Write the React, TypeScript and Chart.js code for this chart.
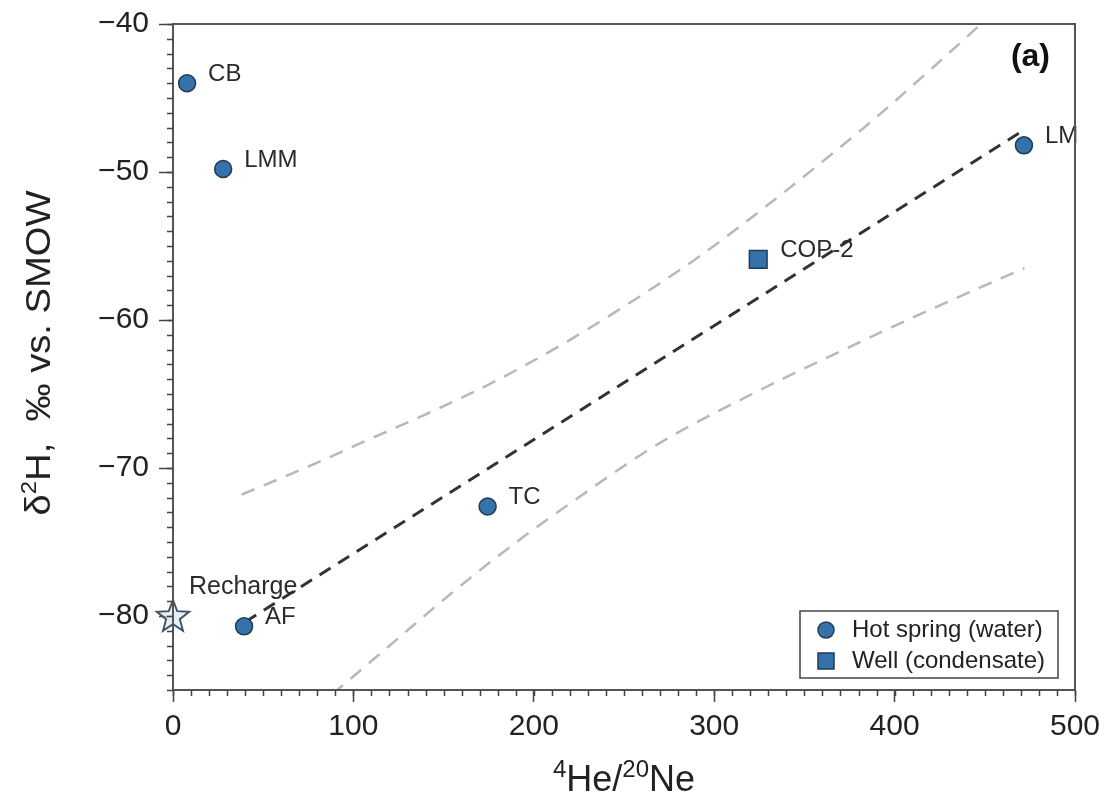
import React, { useEffect, useRef } from 'react';
import { Chart, registerables } from 'chart.js';

Chart.register(...registerables);

// ---------- data ----------
const springNames = ['CB', 'LMM', 'TC', 'AF', 'LM'];
const springX = [7.8, 27.8, 174.4, 39.4, 471.7];
const springY = [-44.0, -49.8, -72.6, -80.7, -48.2];

const wellNames = ['COP-2'];
const wellX = [324.4];
const wellY = [-55.9];

const rechargeNames = ['Recharge'];
const rechargeX = [0];
const rechargeY = [-80.0];

const fitX = [40, 470];
const fitY = [-80.4, -47.3];

const upperX = [38, 75, 110, 145, 176, 215, 255, 293, 330, 360, 387, 417, 447, 472];
const upperY = [-71.8, -69.9, -68.0, -66.1, -64.3, -61.7, -58.7, -55.6, -52.2, -49.3, -46.6, -43.4, -40.1, -37.3];

const lowerX = [38, 65, 94, 122, 150, 185, 220, 270, 326, 365, 400, 440, 472];
const lowerY = [-90.6, -87.7, -84.7, -81.8, -78.9, -75.5, -72.4, -68.3, -64.7, -62.4, -60.4, -58.2, -56.5];

const xTicks = [0, 100, 200, 300, 400, 500];
const yTicks = [-80, -70, -60, -50, -40];

const legendLabels = ['Hot spring (water)', 'Well (condensate)'];
const panelLabel = '(a)';

const FONT = '"Liberation Sans", Arial, Helvetica, sans-serif';
const FILL = '#3572aa';
const EDGE = '#1f3b57';

function pts(xs: number[], ys: number[]) {
  return xs.map((x, i) => ({ x, y: ys[i] }));
}

function makeStar(): HTMLCanvasElement {
  const c = document.createElement('canvas');
  c.width = 40;
  c.height = 40;
  const g = c.getContext('2d')!;
  g.beginPath();
  for (let i = 0; i < 10; i++) {
    const r = i % 2 === 0 ? 17 : 7.2;
    const a = -Math.PI / 2 + (i * Math.PI) / 5;
    const px = 20 + r * Math.cos(a);
    const py = 21 + r * Math.sin(a);
    if (i === 0) g.moveTo(px, py);
    else g.lineTo(px, py);
  }
  g.closePath();
  g.fillStyle = 'rgba(215,228,240,0.6)';
  g.fill();
  g.strokeStyle = '#3d5266';
  g.lineWidth = 1.9;
  g.stroke();
  return c;
}

type Run = { t: string; sup?: boolean };

function drawRuns(ctx: CanvasRenderingContext2D, runs: Run[], cx: number, base: number, size: number, supRatio: number) {
  const supSize = Math.round(size * supRatio);
  let total = 0;
  const widths = runs.map((r) => {
    ctx.font = `${r.sup ? supSize : size}px ${FONT}`;
    const w = ctx.measureText(r.t).width;
    total += w;
    return w;
  });
  let x = cx - total / 2;
  ctx.textAlign = 'left';
  ctx.textBaseline = 'alphabetic';
  runs.forEach((r, i) => {
    ctx.font = `${r.sup ? supSize : size}px ${FONT}`;
    ctx.fillText(r.t, x, r.sup ? base - size * 0.4 : base);
    x += widths[i];
  });
}

const decor = {
  id: 'decor',
  afterDatasetsDraw(chart: any) {
    const { ctx, chartArea: a, scales } = chart;
    const xs = scales.x;
    const ys = scales.y;
    ctx.save();

    // point labels
    ctx.fillStyle = '#2b2b2b';
    ctx.font = `24px ${FONT}`;
    ctx.textAlign = 'left';
    ctx.textBaseline = 'middle';
    springNames.forEach((n, i) => {
      const px = xs.getPixelForValue(springX[i]);
      const py = ys.getPixelForValue(springY[i]);
      ctx.fillText(n, px + 21, py - 9);
    });
    wellNames.forEach((n, i) => {
      const px = xs.getPixelForValue(wellX[i]);
      const py = ys.getPixelForValue(wellY[i]);
      ctx.fillText(n, px + 22, py - 9);
    });
    ctx.font = `25px ${FONT}`;
    rechargeNames.forEach((n, i) => {
      const px = xs.getPixelForValue(rechargeX[i]);
      const py = ys.getPixelForValue(rechargeY[i]);
      ctx.fillText(n, px + 16, py - 29);
    });

    // panel label
    ctx.font = `bold 32px ${FONT}`;
    ctx.textAlign = 'right';
    ctx.fillStyle = '#111';
    ctx.fillText(panelLabel, a.right - 25, a.top + 33);

    // legend
    const bx = a.right - 275;
    const by = a.bottom - 79;
    const bw = 258;
    const bh = 67;
    ctx.fillStyle = '#fff';
    ctx.fillRect(bx, by, bw, bh);
    ctx.strokeStyle = '#444';
    ctx.lineWidth = 1.5;
    ctx.strokeRect(bx, by, bw, bh);
    ctx.beginPath();
    ctx.arc(bx + 26, by + 19, 8, 0, Math.PI * 2);
    ctx.fillStyle = FILL;
    ctx.fill();
    ctx.strokeStyle = EDGE;
    ctx.lineWidth = 1.5;
    ctx.stroke();
    ctx.fillStyle = FILL;
    ctx.fillRect(bx + 18, by + 42, 16, 16);
    ctx.strokeRect(bx + 18, by + 42, 16, 16);
    ctx.fillStyle = '#222';
    ctx.font = `24px ${FONT}`;
    ctx.textAlign = 'left';
    ctx.textBaseline = 'middle';
    ctx.fillText(legendLabels[0], bx + 52, by + 19);
    ctx.fillText(legendLabels[1], bx + 52, by + 50);

    ctx.restore();
  },
  afterDraw(chart: any) {
    const { ctx, chartArea: a, scales } = chart;
    const xs = scales.x;
    const ys = scales.y;
    ctx.save();
    ctx.strokeStyle = '#555';
    ctx.lineWidth = 2;
    ctx.strokeRect(a.left, a.top, a.right - a.left, a.bottom - a.top);

    // minor ticks
    ctx.strokeStyle = '#444';
    ctx.lineWidth = 1.5;
    ctx.beginPath();
    for (let v = xs.min; v <= xs.max; v += 10) {
      const px = Math.round(xs.getPixelForValue(v)) + 0.5;
      ctx.moveTo(px, a.bottom);
      ctx.lineTo(px, a.bottom + 6);
    }
    for (let v = ys.min; v <= ys.max; v += 1) {
      const py = Math.round(ys.getPixelForValue(v)) + 0.5;
      ctx.moveTo(a.left, py);
      ctx.lineTo(a.left - 6, py);
    }
    ctx.stroke();

    // axis titles
    ctx.fillStyle = '#222';
    drawRuns(ctx, [{ t: '4', sup: true }, { t: 'He/' }, { t: '20', sup: true }, { t: 'Ne' }], (a.left + a.right) / 2, 791, 36, 0.68);
    ctx.save();
    ctx.translate(50, (a.top + a.bottom) / 2 - 4);
    ctx.rotate(-Math.PI / 2);
    ctx.scale(1.09, 1);
    drawRuns(ctx, [{ t: 'δ' }, { t: '2', sup: true }, { t: 'H,  ‰ vs. SMOW' }], 0, 0, 35, 0.64);
    ctx.restore();
    ctx.restore();
  },
};

export default function App() {
  const ref = useRef<HTMLCanvasElement>(null);
  useEffect(() => {
    const star = makeStar();
    const chart = new Chart(ref.current!, {
      type: 'scatter',
      data: {
        datasets: [
          {
            label: 'Hot spring (water)',
            data: pts(springX, springY),
            pointStyle: 'circle',
            pointRadius: 8.5,
            backgroundColor: FILL,
            borderColor: EDGE,
            borderWidth: 1.5,
            order: 1,
            clip: false,
          },
          {
            label: 'Well (condensate)',
            data: pts(wellX, wellY),
            pointStyle: 'rect',
            pointRadius: 12.5,
            backgroundColor: FILL,
            borderColor: EDGE,
            borderWidth: 1.5,
            order: 1,
            clip: false,
          },
          {
            label: 'Recharge',
            data: pts(rechargeX, rechargeY),
            pointStyle: star as any,
            pointRadius: 17,
            order: 0,
            clip: false,
          },
          {
            label: 'fit',
            data: pts(fitX, fitY),
            showLine: true,
            borderColor: '#333',
            borderWidth: 3,
            borderDash: [13, 9],
            pointRadius: 0,
            order: 2,
          },
          {
            label: 'upper',
            data: pts(upperX, upperY),
            showLine: true,
            borderColor: '#b8b8b8',
            borderWidth: 2.5,
            borderDash: [14, 10],
            pointRadius: 0,
            cubicInterpolationMode: 'monotone',
            order: 3,
            clip: 0,
          },
          {
            label: 'lower',
            data: pts(lowerX, lowerY),
            showLine: true,
            borderColor: '#b8b8b8',
            borderWidth: 2.5,
            borderDash: [14, 10],
            pointRadius: 0,
            cubicInterpolationMode: 'monotone',
            order: 3,
            clip: 0,
          },
        ] as any,
      },
      options: {
        animation: false,
        responsive: true,
        maintainAspectRatio: false,
        layout: { padding: { left: 0, top: 24, right: 30, bottom: 0 } },
        plugins: {
          legend: { display: false },
          tooltip: { enabled: false },
        },
        scales: {
          x: {
            type: 'linear',
            min: 0,
            max: 500,
            afterBuildTicks: (s: any) => {
              s.ticks = xTicks.map((v) => ({ value: v }));
            },
            afterFit: (s: any) => {
              s.height = 110;
              s.paddingLeft = 0;
              s.paddingRight = 0;
            },
            grid: {
              drawOnChartArea: false,
              tickLength: 12,
              tickColor: '#444',
              tickWidth: 1.5,
            },
            border: { display: true, color: '#555', width: 2 },
            ticks: {
              font: { family: FONT, size: 30 },
              color: '#222',
              padding: 7,
              maxRotation: 0,
              callback: (v: any) => String(v),
            },
          },
          y: {
            type: 'linear',
            min: -85,
            max: -40,
            afterBuildTicks: (s: any) => {
              s.ticks = yTicks.map((v) => ({ value: v }));
            },
            afterFit: (s: any) => {
              s.width = 173;
              s.paddingTop = 0;
              s.paddingBottom = 0;
            },
            grid: {
              drawOnChartArea: false,
              tickLength: 14,
              tickColor: '#444',
              tickWidth: 1.5,
            },
            border: { display: true, color: '#555', width: 2 },
            ticks: {
              font: { family: FONT, size: 30 },
              color: '#222',
              padding: 10,
              callback: (v: any) => String(v).replace('-', '\u2212'),
            },
          },
        },
      },
      plugins: [decor],
    });
    return () => chart.destroy();
  }, []);
  return (
    <div style={{ position: 'absolute', left: 0, top: 0, width: 1105, height: 800, background: '#fff' }}>
      <canvas ref={ref} />
    </div>
  );
}
